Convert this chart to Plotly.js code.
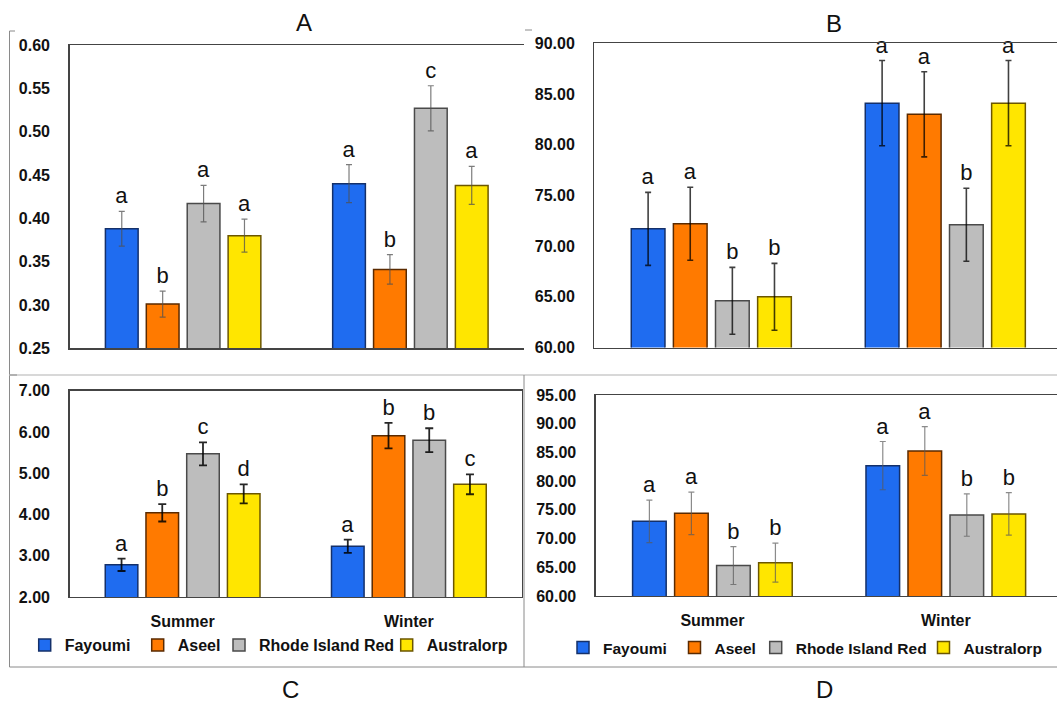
<!DOCTYPE html>
<html>
<head>
<meta charset="utf-8">
<script src="https://cdn.plot.ly/plotly-3.0.1.min.js"></script>
<style>html,body{margin:0;padding:0;background:#fff;}#chart{width:1057px;height:704px;}</style>
</head>
<body>
<div id="chart"></div>
<script>
// ---------- DATA ----------
const seasons = ['Summer', 'Winter'];
const breeds = ['Fayoumi', 'Aseel', 'Rhode Island Red', 'Australorp'];

// Panel A
const A_fayoumi = [0.388, 0.440];
const A_aseel = [0.301, 0.341];
const A_rir = [0.417, 0.527];
const A_australorp = [0.380, 0.438];
const A_err_fayoumi = [0.020, 0.022];
const A_err_aseel = [0.015, 0.017];
const A_err_rir = [0.021, 0.026];
const A_err_australorp = [0.019, 0.022];
const A_let_fayoumi = ['a', 'a'];
const A_let_aseel = ['b', 'b'];
const A_let_rir = ['a', 'c'];
const A_let_australorp = ['a', 'a'];

// Panel B
const B_fayoumi = [71.7, 84.1];
const B_aseel = [72.2, 83.0];
const B_rir = [64.6, 72.1];
const B_australorp = [65.0, 84.1];
const B_err_fayoumi = [3.6, 4.2];
const B_err_aseel = [3.6, 4.2];
const B_err_rir = [3.3, 3.6];
const B_err_australorp = [3.3, 4.2];
const B_let_fayoumi = ['a', 'a'];
const B_let_aseel = ['a', 'a'];
const B_let_rir = ['b', 'b'];
const B_let_australorp = ['b', 'a'];

// Panel C
const C_fayoumi = [2.78, 3.23];
const C_aseel = [4.04, 5.91];
const C_rir = [5.47, 5.80];
const C_australorp = [4.50, 4.73];
const C_err_fayoumi = [0.15, 0.16];
const C_err_aseel = [0.21, 0.31];
const C_err_rir = [0.28, 0.29];
const C_err_australorp = [0.23, 0.24];
const C_let_fayoumi = ['a', 'a'];
const C_let_aseel = ['b', 'b'];
const C_let_rir = ['c', 'b'];
const C_let_australorp = ['d', 'c'];

// Panel D
const D_fayoumi = [73.0, 82.7];
const D_aseel = [74.4, 85.25];
const D_rir = [65.3, 74.1];
const D_australorp = [65.8, 74.3];
const D_err_fayoumi = [3.7, 4.2];
const D_err_aseel = [3.7, 4.25];
const D_err_rir = [3.3, 3.7];
const D_err_australorp = [3.4, 3.7];
const D_let_fayoumi = ['a', 'a'];
const D_let_aseel = ['a', 'a'];
const D_let_rir = ['b', 'b'];
const D_let_australorp = ['b', 'b'];

// ---------- STYLE ----------
const W = 1057, H = 704;
const FONT = 'Liberation Sans, Arial, sans-serif';
const fill = ['#1f6cf0', '#ff7a00', '#bdbdbd', '#ffe600'];
const edge = ['#14306a', '#5a2a00', '#4a4a4a', '#6b5600'];

const panels = [
  {key: 'A', xa: 'x', ya: 'y', vals: [A_fayoumi, A_aseel, A_rir, A_australorp],
   errs: [A_err_fayoumi, A_err_aseel, A_err_rir, A_err_australorp],
   lets: [A_let_fayoumi, A_let_aseel, A_let_rir, A_let_australorp],
   ecol: 'rgba(80,80,80,0.75)', eth: 1.2, ew: 3, legends: null},
  {key: 'B', xa: 'x2', ya: 'y2', vals: [B_fayoumi, B_aseel, B_rir, B_australorp],
   errs: [B_err_fayoumi, B_err_aseel, B_err_rir, B_err_australorp],
   lets: [B_let_fayoumi, B_let_aseel, B_let_rir, B_let_australorp],
   ecol: 'rgba(0,0,0,0.75)', eth: 1.6, ew: 3, legends: null},
  {key: 'C', xa: 'x3', ya: 'y3', vals: [C_fayoumi, C_aseel, C_rir, C_australorp],
   errs: [C_err_fayoumi, C_err_aseel, C_err_rir, C_err_australorp],
   lets: [C_let_fayoumi, C_let_aseel, C_let_rir, C_let_australorp],
   ecol: 'rgba(0,0,0,0.85)', eth: 1.8, ew: 4, legends: ['legend', 'legend2', 'legend3', 'legend4']},
  {key: 'D', xa: 'x4', ya: 'y4', vals: [D_fayoumi, D_aseel, D_rir, D_australorp],
   errs: [D_err_fayoumi, D_err_aseel, D_err_rir, D_err_australorp],
   lets: [D_let_fayoumi, D_let_aseel, D_let_rir, D_let_australorp],
   ecol: 'rgba(90,90,90,0.7)', eth: 1.2, ew: 3, legends: ['legend5', 'legend6', 'legend7', 'legend8']}
];

const traces = [];
panels.forEach(p => {
  breeds.forEach((b, i) => {
    traces.push({
      type: 'bar', name: b, x: seasons, y: p.vals[i],
      xaxis: p.xa, yaxis: p.ya, offsetgroup: b,
      marker: {color: fill[i], line: {color: edge[i], width: 1.5}},
      error_y: {type: 'data', array: p.errs[i], visible: true, color: p.ecol, thickness: p.eth, width: p.ew},
      showlegend: p.legends !== null, legend: p.legends ? p.legends[i] : 'legend',
      hoverinfo: 'y'
    });
    // significance letters placed above the error whisker
    traces.push({
      type: 'bar', name: b + ' letters', x: seasons, y: p.errs[i], base: p.vals[i],
      xaxis: p.xa, yaxis: p.ya, offsetgroup: b,
      marker: {color: 'rgba(0,0,0,0)', line: {width: 0}},
      text: p.lets[i], textposition: 'outside', constraintext: 'none', cliponaxis: false,
      textfont: {family: FONT, size: 22, color: '#111'},
      showlegend: false, hoverinfo: 'skip'
    });
  });
});

function xd(l, r) { return [l / W, Math.min(r / W, 1)]; }
function yd(t, b) { return [1 - b / H, 1 - t / H]; }

const tickFont = {family: FONT, size: 16, color: '#111', weight: 'bold'};
function xaxis(dom, range, showLabels, anchor) {
  return {domain: dom, range: range, anchor: anchor, type: 'category',
    showline: true, mirror: true, linecolor: '#444', linewidth: 1.3,
    ticks: '', showgrid: false, zeroline: false, fixedrange: true,
    showticklabels: showLabels, tickfont: tickFont, ticklabelstandoff: 9};
}
function yaxis(dom, range, dtick, mirror, anchor) {
  return {domain: dom, range: range, dtick: dtick, tick0: range[0], anchor: anchor,
    tickformat: '.2f', showline: true, mirror: mirror, linecolor: '#444', linewidth: 1.3,
    ticks: '', showgrid: false, zeroline: false, fixedrange: true,
    tickfont: tickFont, ticklabelstandoff: 15};
}

const lineCol = '#8a8a8a';
const shapes = [
  {type: 'line', xref: 'paper', yref: 'paper', x0: 9.5 / W, x1: 9.5 / W, y0: 1 - 31 / H, y1: 1 - 667 / H, line: {color: lineCol, width: 1}},
  {type: 'line', xref: 'paper', yref: 'paper', x0: 9.5 / W, x1: 15 / W, y0: 1 - 31 / H, y1: 1 - 31 / H, line: {color: lineCol, width: 1}},
  {type: 'line', xref: 'paper', yref: 'paper', x0: 525 / W, x1: 532 / W, y0: 1 - 30 / H, y1: 1 - 30 / H, line: {color: lineCol, width: 1}},
  {type: 'line', xref: 'paper', yref: 'paper', x0: 9.5 / W, x1: 1, y0: 1 - 375 / H, y1: 1 - 375 / H, line: {color: '#d8d8d8', width: 2}},
  {type: 'line', xref: 'paper', yref: 'paper', x0: 9.5 / W, x1: 17 / W, y0: 1 - 375 / H, y1: 1 - 375 / H, line: {color: lineCol, width: 1}},
  {type: 'line', xref: 'paper', yref: 'paper', x0: 524 / W, x1: 524 / W, y0: 1 - 375 / H, y1: 1 - 667 / H, line: {color: lineCol, width: 1}},
  {type: 'line', xref: 'paper', yref: 'paper', x0: 9.5 / W, x1: 1, y0: 1 - 667 / H, y1: 1 - 667 / H, line: {color: lineCol, width: 1}}
];

const titleFont = {family: FONT, size: 24, color: '#111'};
const annotations = [
  {text: 'A', x: 304 / W, y: 1 - 22 / H},
  {text: 'B', x: 834 / W, y: 1 - 23 / H},
  {text: 'C', x: 290 / W, y: 1 - 689 / H},
  {text: 'D', x: 824 / W, y: 1 - 689 / H}
].map(a => Object.assign({xref: 'paper', yref: 'paper', xanchor: 'center', yanchor: 'middle', showarrow: false, font: titleFont}, a));

function leg(xpx, ypx, size) {
  return {orientation: 'h', x: xpx / W, xanchor: 'left', y: 1 - ypx / H, yanchor: 'middle',
    font: {family: FONT, size: size, color: '#111', weight: 'bold'},
    bgcolor: 'rgba(0,0,0,0)', itemclick: false, itemdoubleclick: false};
}

const layout = {
  width: W, height: H,
  margin: {l: 0, r: 0, t: 0, b: 0, pad: 0},
  paper_bgcolor: '#fff', plot_bgcolor: '#fff',
  barmode: 'group', bargap: 0.28, bargroupgap: 0.2,
  font: {family: FONT, color: '#111'},
  xaxis: xaxis(xd(69.5, 524), [-0.5, 1.5], false, 'y'),
  yaxis: yaxis(yd(45, 348.3), [0.25, 0.60], 0.05, false, 'x'),
  xaxis2: xaxis(xd(594.3, 1057), [-0.5, -0.5 + (1057 - 594.3) / 234], false, 'y2'),
  yaxis2: yaxis(yd(43.3, 347.5), [60, 90], 5, false, 'x2'),
  xaxis3: xaxis(xd(69.5, 522), [-0.5, 1.5], true, 'y3'),
  yaxis3: yaxis(yd(390.7, 597), [2, 7], 1, true, 'x3'),
  xaxis4: xaxis(xd(595.7, 1057), [-0.5, -0.5 + (1057 - 595.7) / 233.4], true, 'y4'),
  yaxis4: yaxis(yd(395, 596), [60, 95], 5, false, 'x4'),
  legend: leg(24.7, 645, 16),
  legend2: leg(137.7, 645, 16),
  legend3: leg(219, 645, 16),
  legend4: leg(386.7, 645, 16),
  legend5: leg(563, 648, 15.5),
  legend6: leg(674.5, 648, 15.5),
  legend7: leg(755.7, 648, 15.5),
  legend8: leg(923.5, 648, 15.5),
  shapes: shapes,
  annotations: annotations,
  showlegend: true
};

Plotly.newPlot('chart', traces, layout, {displayModeBar: false, staticPlot: true});
</script>
</body>
</html>
